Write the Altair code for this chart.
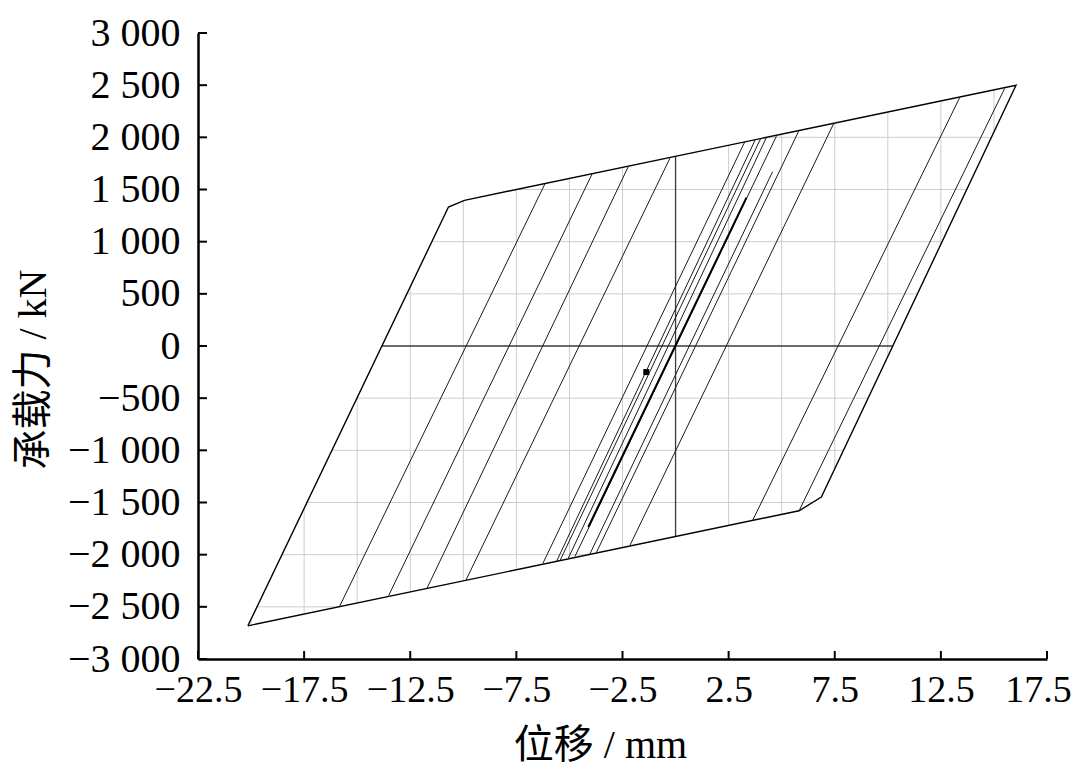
import altair as alt
import pandas as pd

# ---------------- data (displacement mm, force kN) ----------------
# Outer envelope path: lower-left corner -> left elastic branch -> upper envelope
# -> right elastic branch -> lower envelope back to start
env_x = [-20.15, -10.70, -9.95, 16.04, 6.87, 5.82, -20.15]
env_y = [-2682, 1332, 1396, 2499, -1448, -1579, -2682]

# Inner elastic branches: lower end (x1, y1) -> upper end (x2, y2)
br_x1 = [-15.83, -13.52, -11.72, -9.88, -6.25, -5.60, -5.44, -5.05, -4.74, -4.03, -3.72, -2.15, 3.63, 5.82]
br_y1 = [-2496, -2393, -2326, -2246, -2083, -2061, -2055, -2032, -2017, -1991, -1975, -1911, -1672, -1579]
br_x2 = [-6.15, -3.92, -2.23, -0.27, 3.26, 3.76, 4.01, 4.28, 4.75, 4.57, 5.80, 7.45, 13.38, 15.50]
br_y2 = [1556, 1654, 1718, 1798, 1957, 1979, 1989, 1998, 2011, 1670, 2059, 2132, 2378, 2467]

# Repeated small-amplitude cycles (drawn as a thick band)
thick_x = [-4.11, 3.34]
thick_y = [-1735, 1422]

# Start point marker
mark_x = [-1.38]
mark_y = [-250]

x_ticks = [-22.5, -17.5, -12.5, -7.5, -2.5, 2.5, 7.5, 12.5, 17.5]
y_ticks = [-3000, -2500, -2000, -1500, -1000, -500, 0, 500, 1000, 1500, 2000, 2500, 3000]
grid_xs = [-20, -17.5, -15, -12.5, -10, -7.5, -5, -2.5, 0, 2.5, 5, 7.5, 10, 12.5, 15]
grid_ys = [-2500, -2000, -1500, -1000, -500, 0, 500, 1000, 1500, 2000, 2500]

# ---------------- grid clipped to the loop ----------------
poly = list(zip(env_x[:-1], env_y[:-1]))


def crossings(c, horizontal):
    out = []
    n = len(poly)
    for i in range(n):
        (x1, y1), (x2, y2) = poly[i], poly[(i + 1) % n]
        if horizontal:
            if y1 != y2 and (y1 - c) * (y2 - c) <= 0:
                out.append(x1 + (c - y1) * (x2 - x1) / (y2 - y1))
        else:
            if x1 != x2 and (x1 - c) * (x2 - c) <= 0:
                out.append(y1 + (c - x1) * (y2 - y1) / (x2 - x1))
    return out


grid_rows = []
for gx in grid_xs:
    ys = crossings(gx, False)
    if len(ys) >= 2:
        grid_rows.append(dict(x=gx, x2=gx, y=min(ys), y2=max(ys), kind="zero" if gx == 0 else "grid"))
for gy in grid_ys:
    xs = crossings(gy, True)
    if len(xs) >= 2:
        grid_rows.append(dict(x=min(xs), x2=max(xs), y=gy, y2=gy, kind="zero" if gy == 0 else "grid"))
grid_df = pd.DataFrame(grid_rows)

env_df = pd.DataFrame({"x": env_x, "y": env_y, "o": list(range(len(env_x)))})
br_df = pd.DataFrame({"x": br_x1, "y": br_y1, "x2": br_x2, "y2": br_y2})
thick_df = pd.DataFrame({"x": [thick_x[0]], "y": [thick_y[0]], "x2": [thick_x[1]], "y2": [thick_y[1]]})
mark_df = pd.DataFrame({"x": mark_x, "y": mark_y})
xt_df = pd.DataFrame({"x": x_ticks})
yt_df = pd.DataFrame({"y": y_ticks})

# ---------------- scales / axes ----------------
W, H = 849, 626
serif = "Liberation Serif"
cjk = "Liberation Serif, Noto Sans CJK SC"

xs = alt.Scale(domain=[-22.5, 17.5], nice=False, zero=False)
ys = alt.Scale(domain=[-3000, 3000], nice=False, zero=False)

x_axis = alt.Axis(
    values=x_ticks, format=".1f", ticks=False, grid=False,
    domainColor="black", domainWidth=2.5,
    labelFont=serif, labelFontSize=38, labelColor="black", labelPadding=12,
    labelOffset={"condition": {"test": "datum.value > 17", "value": -9}, "value": 0},
    labelOverlap=False, labelFlush=False,
    title="位移 / mm", titleFont=cjk, titleFontSize=40, titleFontWeight="normal",
    titleColor="black", titleX=402, titleY=86, titleBaseline="middle", titleAlign="center",
)
y_axis = alt.Axis(
    values=y_ticks, ticks=False, grid=False,
    labelExpr="replace(format(datum.value, ','), ',', ' ')",
    domainColor="black", domainWidth=2.5,
    labelFont=serif, labelFontSize=40, labelColor="black", labelPadding=18,
    labelOverlap=False, labelFlush=False,
    title="承载力 / kN", titleFont=cjk, titleFontSize=40, titleFontWeight="normal",
    titleColor="black", titleX=-165, titleY=336, titleAngle=270,
    titleBaseline="middle", titleAlign="center",
)


def X(f="x"):
    return alt.X(f"{f}:Q", scale=xs, axis=x_axis)


def Y(f="y"):
    return alt.Y(f"{f}:Q", scale=ys, axis=y_axis)


grid = alt.Chart(grid_df).transform_filter(alt.datum.kind == "grid").mark_rule(
    color="#cdcdcd", strokeWidth=1
).encode(x=X(), x2="x2:Q", y=Y(), y2="y2:Q")

zero = alt.Chart(grid_df).transform_filter(alt.datum.kind == "zero").mark_rule(
    color="#3a3a3a", strokeWidth=1.3
).encode(x=X(), x2="x2:Q", y=Y(), y2="y2:Q")

env = alt.Chart(env_df).mark_line(color="black", strokeWidth=1.4).encode(
    x=X(), y=Y(), order="o:Q"
)

branches = alt.Chart(br_df).mark_rule(color="#1a1a1a", strokeWidth=1).encode(
    x=X(), y=Y(), x2="x2:Q", y2="y2:Q"
)

thick = alt.Chart(thick_df).mark_rule(color="black", strokeWidth=2).encode(
    x=X(), y=Y(), x2="x2:Q", y2="y2:Q"
)

marker = alt.Chart(mark_df).mark_square(color="black", size=36, opacity=1).encode(
    x=X(), y=Y()
)

xt = alt.Chart(xt_df).mark_rule(color="black", strokeWidth=2).encode(
    x=X(), y=alt.value(H), y2=alt.value(H - 8)
)
yt = alt.Chart(yt_df).mark_rule(color="black", strokeWidth=2).encode(
    y=Y(), x=alt.value(0), x2=alt.value(9)
)

chart = alt.layer(grid, zero, branches, thick, env, marker, xt, yt).properties(
    width=W, height=H,
    autosize=alt.AutoSizeParams(type="none"),
    padding={"left": 190, "top": 25, "right": 25, "bottom": 112},
    background="white",
).configure_view(stroke="transparent")

chart.save("out.html", embed_options={"renderer": "svg", "actions": False})
